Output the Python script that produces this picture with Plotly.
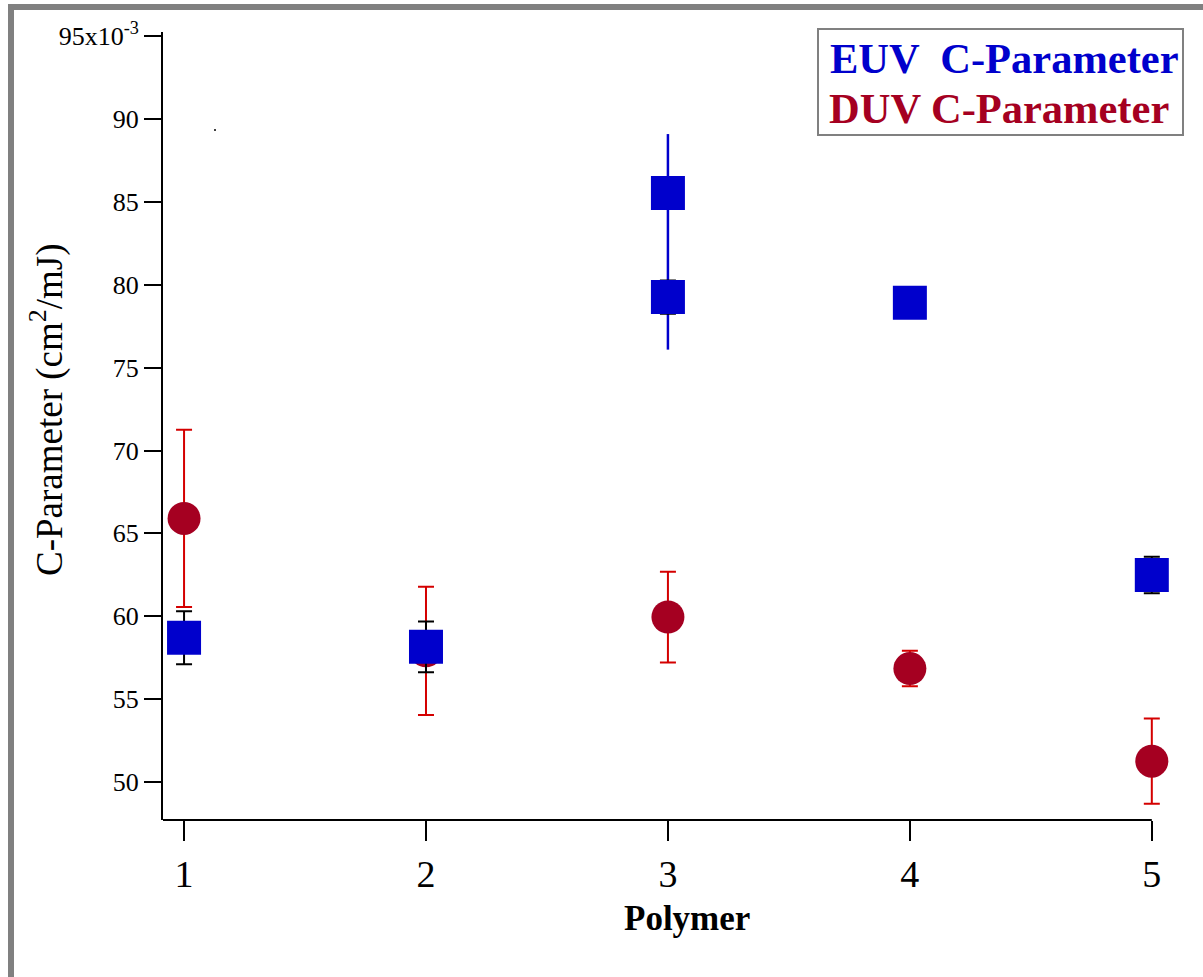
import plotly.graph_objects as go

# ---- data (values in units of 1e-3 cm^2/mJ) ----
polymer = [1, 2, 3, 4, 5]
euv_c = [58.7, 58.15, 79.26, 78.92, 62.49]
euv_err = [1.6, 1.53, 1.0, 0.8, 1.1]
euv2_x = [3]
euv2_c = [85.55]
euv2_err_plus = [3.55]
euv2_err_minus = [9.46]
duv_c = [65.9, 57.91, 59.95, 56.84, 51.25]
duv_err = [5.35, 3.87, 2.74, 1.07, 2.57]
stray_x = [1.128]
stray_y = [89.35]

ytick_vals = [50, 55, 60, 65, 70, 75, 80, 85, 90, 95]
ytick_text = ["50", "55", "60", "65", "70", "75", "80", "85", "90", "95x10<sup>-3</sup>"]
xtick_vals = [1, 2, 3, 4, 5]
xtick_text = ["1", "2", "3", "4", "5"]

X_MIN, X_AXIS_END, X_MAX = 0.913, 5.0, 5.1
Y_MIN, Y_MAX = 47.7, 95.26

EUV_COL = "#0000CC"
DUV_COL = "#A50021"
DUV_ERR = "#D40000"
FONT = "Liberation Serif, Times New Roman, serif"

W, H = 1203, 977
L, R, T, B = 163, 1176, 32, 820
pw, ph = R - L, B - T


def px(x):
    return (x - L) / pw


def py(y):
    return (B - y) / ph


fig = go.Figure()

fig.add_trace(go.Scatter(
    x=polymer, y=duv_c, mode="markers", cliponaxis=False,
    marker=dict(symbol="circle", size=33, color=DUV_COL),
    error_y=dict(type="data", array=duv_err, color=DUV_ERR, thickness=2, width=8),
    showlegend=False))

fig.add_trace(go.Scatter(
    x=euv2_x, y=euv2_c, mode="markers", cliponaxis=False,
    marker=dict(symbol="square", size=34, color=EUV_COL),
    error_y=dict(type="data", symmetric=False, array=euv2_err_plus,
                 arrayminus=euv2_err_minus, color=EUV_COL, thickness=2.5, width=0),
    showlegend=False))

fig.add_trace(go.Scatter(
    x=polymer, y=euv_c, mode="markers", cliponaxis=False,
    marker=dict(symbol="square", size=34, color=EUV_COL),
    error_y=dict(type="data", array=euv_err, color="black", thickness=2, width=8),
    showlegend=False))

fig.add_trace(go.Scatter(
    x=stray_x, y=stray_y, mode="markers", cliponaxis=False,
    marker=dict(symbol="circle", size=2, color="black"),
    showlegend=False))

fig.update_layout(
    width=W, height=H,
    margin=dict(l=L, r=W - R, t=T, b=H - B, pad=0),
    paper_bgcolor="white", plot_bgcolor="white",
    font=dict(family=FONT, color="black"),
    xaxis=dict(range=[X_MIN, X_MAX], tickmode="array", tickvals=xtick_vals, ticktext=xtick_text,
               showgrid=False, zeroline=False, showline=False,
               ticks="outside", ticklen=20, tickwidth=2, tickcolor="black",
               tickfont=dict(size=38, family=FONT)),
    yaxis=dict(range=[Y_MIN, Y_MAX], tickmode="array", tickvals=ytick_vals, ticktext=ytick_text,
               showgrid=False, zeroline=False, showline=True, linecolor="black", linewidth=2,
               ticks="outside", ticklen=17, tickwidth=2, tickcolor="black",
               tickfont=dict(size=26, family=FONT)),
)

# x axis line ending at the last tick
fig.add_shape(type="line", xref="x", yref="paper", x0=X_MIN, x1=X_AXIS_END, y0=0, y1=0,
              line=dict(color="black", width=2), layer="above")

# frame borders (gray bars at top and left)
fig.add_shape(type="rect", xref="paper", yref="paper",
              x0=px(8), x1=px(14), y0=py(977), y1=py(4),
              fillcolor="#808080", line=dict(width=0), layer="above")
fig.add_shape(type="rect", xref="paper", yref="paper",
              x0=px(8), x1=px(1203), y0=py(10), y1=py(4),
              fillcolor="#808080", line=dict(width=0), layer="above")

# legend box
fig.add_shape(type="rect", xref="paper", yref="paper",
              x0=px(818), x1=px(1183), y0=py(135), y1=py(29),
              fillcolor="white", line=dict(color="#808080", width=2), layer="above")
fig.add_annotation(xref="paper", yref="paper", x=px(828), y=py(59),
                   xanchor="left", yanchor="middle", showarrow=False,
                   text="<b>EUV  C-Parameter</b>",
                   font=dict(size=42.5, color=EUV_COL, family=FONT))
fig.add_annotation(xref="paper", yref="paper", x=px(827), y=py(109),
                   xanchor="left", yanchor="middle", showarrow=False,
                   text="<b>DUV C-Parameter</b>",
                   font=dict(size=42.5, color=DUV_COL, family=FONT))

# axis titles
fig.add_annotation(xref="paper", yref="paper", x=px(687), y=py(918),
                   xanchor="center", yanchor="middle", showarrow=False,
                   text="<b>Polymer</b>", font=dict(size=35, family=FONT, color="black"))
fig.add_annotation(xref="paper", yref="paper", x=px(47), y=py(410),
                   xanchor="center", yanchor="middle", showarrow=False, textangle=-90,
                   text="C-Parameter (cm<sup>2</sup>/mJ)",
                   font=dict(size=37, family=FONT, color="black"))

fig.write_html("out.html", config={"displayModeBar": False},
               post_script="document.body.style.margin='0px';document.body.style.padding='0px';")
